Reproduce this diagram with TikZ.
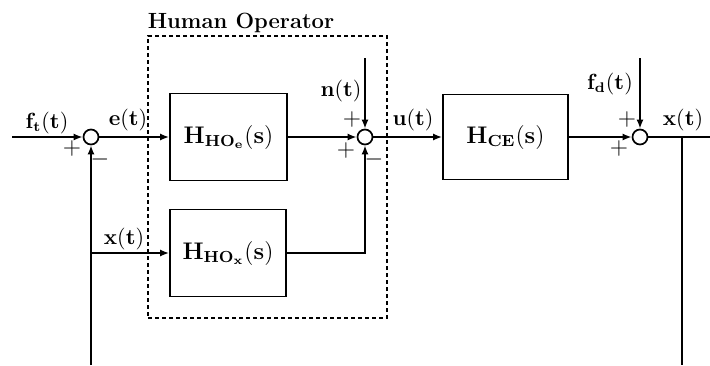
\documentclass[tikz,border=0pt]{standalone}
\usepackage{amsmath}
\usetikzlibrary{arrows.meta}
\begin{document}
\begin{tikzpicture}[x=0.5pt,y=-0.5pt, line width=0.85pt, >={Latex[length=4.5pt,width=3.5pt]},
  sumc/.style={circle,draw,minimum size=7.5pt,inner sep=0pt},
  blk/.style={draw,rectangle,inner sep=0pt,font=\fontsize{11.5}{13}\selectfont},
  lbl/.style={font=\fontsize{10.5}{12}\selectfont,inner sep=0pt},
  sgn/.style={font=\fontsize{12}{13}\selectfont,inner sep=0pt},
  opbox/.style={draw,dash pattern=on 2pt off 1.5pt}]
\useasboundingbox (0,0) rectangle (710,365);
% blocks
\node[blk,minimum width=58.5pt,minimum height=43.5pt] (hoe) at (228.5,137) {$\mathbf{H_{HO_e}(s)}$};
\node[blk,minimum width=58pt,minimum height=43.5pt] (hox) at (228,253) {$\mathbf{H_{HO_x}(s)}$};
\node[blk,minimum width=62.5pt,minimum height=42.5pt] (hce) at (505.5,137) {$\mathbf{H_{CE}(s)}$};
% sums
\node[sumc] (s1) at (91,137) {};
\node[sumc] (s2) at (365,137) {};
\node[sumc] (s3) at (640,137) {};
% dashed operator box
\node[opbox,minimum width=119.5pt,minimum height=141pt] (op) at (267.5,177) {};
\node[font=\fontsize{11}{13}\selectfont\bfseries,anchor=base west,inner sep=0pt] (optitle) at (147,28) {Human Operator};
% coordinates
\coordinate (in) at (12,137);
\coordinate (nin) at (365,58);
\coordinate (fdin) at (640,58);
\coordinate (out) at (710,137);
\coordinate (br) at (682,137);
\coordinate (brb) at (682,365);
\coordinate (fbb) at (91,365);
\coordinate (fbx) at (91,253);
% connectors
\draw[->] (in) -- (s1.west);
\draw[->] (s1.east) -- (hoe.west);
\draw[->] (hoe.east) -- (s2.west);
\draw[->] (nin) -- (s2.north);
\draw[->] (hox.east) -| (s2.south);
\draw[->] (s2.east) -- (hce.west);
\draw[->] (hce.east) -- (s3.west);
\draw[->] (fdin) -- (s3.north);
\draw (s3.east) -- (out);
\draw (br) -- (brb);
\draw[->] (fbb) -- (s1.south);
\draw[->] (fbx) -- (hox.west);
% labels
\node[lbl] (lft) at (47,123) {$\mathbf{f_t(t)}$};
\node[lbl] (le) at (128,120) {$\mathbf{e(t)}$};
\node[lbl] (ln) at (341,91) {$\mathbf{n(t)}$};
\node[lbl] (lu) at (413,120) {$\mathbf{u(t)}$};
\node[lbl] (lfd) at (610,84) {$\mathbf{f_d(t)}$};
\node[lbl] (lx) at (683,120) {$\mathbf{x(t)}$};
\node[lbl] (lx2) at (124,239) {$\mathbf{x(t)}$};
% signs
\node[sgn] (p1) at (72,148) {$+$};
\node[sgn] (m1) at (100,159) {$-$};
\node[sgn] (p2a) at (352,119) {$+$};
\node[sgn] (p2b) at (346,150) {$+$};
\node[sgn] (m2) at (374,159) {$-$};
\node[sgn] (p3a) at (627,119) {$+$};
\node[sgn] (p3b) at (619,148) {$+$};
\end{tikzpicture}
\end{document}
